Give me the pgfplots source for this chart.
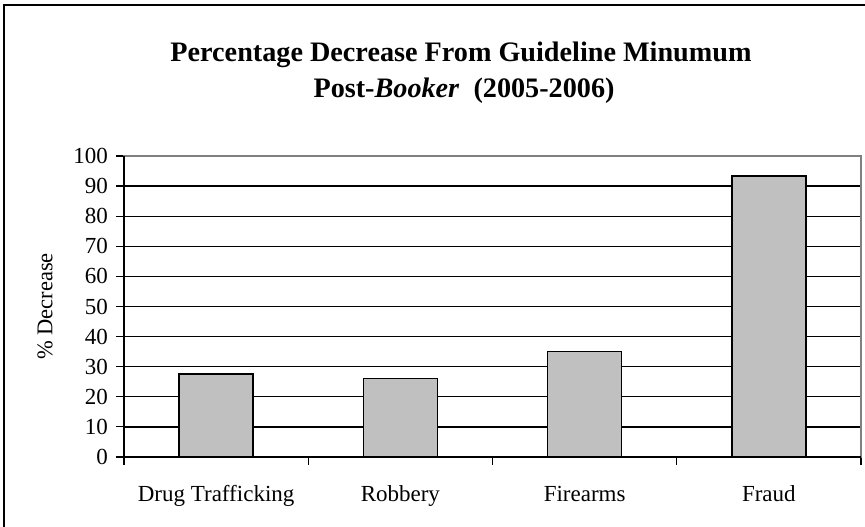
\documentclass[border=0pt]{standalone}
\usepackage{pgfplots}
\pgfplotsset{compat=1.18}
\usepackage{fontspec}
\setmainfont{Liberation Serif}

\definecolor{barfill}{RGB}{192,192,192}
\definecolor{framegray}{RGB}{128,128,128}

\begin{document}
\begin{tikzpicture}[x=1pt,y=1pt]
\useasboundingbox (0,0) rectangle (865,527);
% chart area frame (only left and top show)
\draw[line width=2.6pt] (4,0) -- (4,522) -- (865,522);
% title
\node[anchor=base, font=\fontsize{28.2}{32}\selectfont\bfseries] at (461,465)
  {Percentage Decrease From Guideline Minumum};
\node[anchor=base west, font=\fontsize{28.2}{32}\selectfont\bfseries] at (310,429)
  {Post-\textit{Booker}\ \ (2005-2006)};
\begin{axis}[
    at={(124pt,70pt)}, anchor=south west,
    scale only axis,
    width=737pt, height=301pt,
    xmin=-0.5, xmax=3.5,
    ymin=0, ymax=100,
    ytick={0,10,...,100},
    xtick={0,1,2,3},
    xticklabels={Drug Trafficking, Robbery, Firearms, Fraud},
    minor xtick={-0.5,0.5,1.5,2.5,3.5},
    ymajorgrids=true,
    grid style={black, line width=1.3pt},
    axis line style={framegray, line width=1.4pt},
    tick align=outside,
    tick style={black, line width=1.2pt},
    major tick length=8pt,
    minor tick length=8pt,
    x tick style={draw=none},
    minor x tick style={draw=black, line width=1.2pt},
    xtick pos=bottom, ytick pos=left,
    /pgf/number format/assume math mode=true,
    ticklabel style={font=\fontsize{23}{27}\selectfont},
    y tick label style={inner sep=0pt, xshift=-8pt},
    x tick label style={text height=16pt, text depth=5pt, yshift=-17pt},
    ylabel={\% Decrease},
    ylabel style={font=\fontsize{22.5}{26}\selectfont, at={(axis description cs:-0.107,0.5)}, anchor=center},
    ybar, bar width=74pt,
    clip=false,
]
\addplot[fill=barfill, draw=black, line width=1.3pt] coordinates {(0,27.6) (1,26) (2,35) (3,93.4)};
\draw[framegray, line width=1.4pt] (rel axis cs:0,1) -- (rel axis cs:1,1) -- (rel axis cs:1,0);
\draw[black, line width=1.6pt] (rel axis cs:0,1) -- (rel axis cs:0,0) -- (rel axis cs:1,0);
\end{axis}
\end{tikzpicture}
\end{document}
